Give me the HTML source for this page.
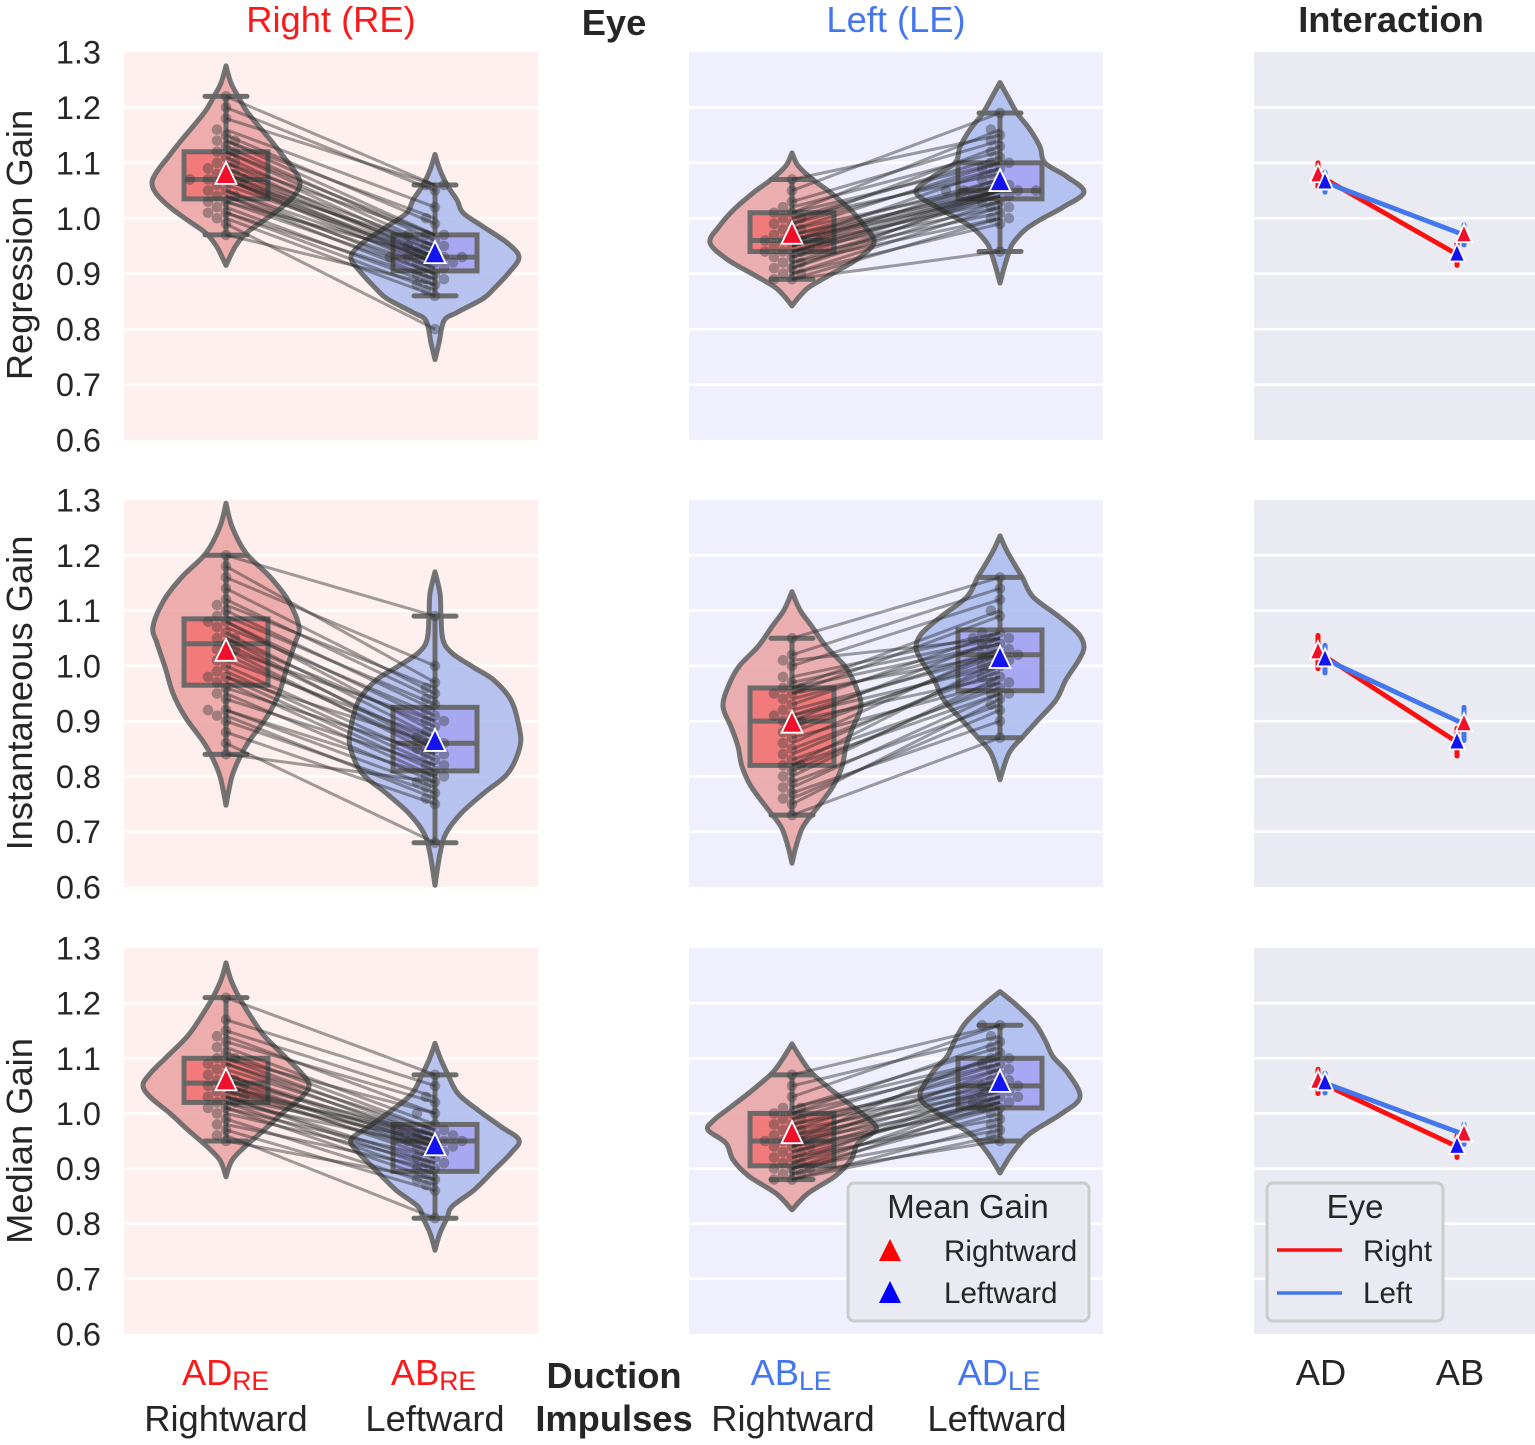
<!DOCTYPE html>
<html lang="en">
<head>
<meta charset="utf-8">
<title>Gain by eye and duction impulse</title>
<style>
html,body{margin:0;padding:0;background:#fff}
svg{display:block}
text{font-family:"Liberation Sans",Arial,sans-serif;fill:#262626}
.t{font-size:36.3px}
.b{font-weight:bold}
.tick{font-size:32.5px;text-anchor:end}
.m{text-anchor:middle}
.leg{font-size:29.6px}
.legt{font-size:33px;text-anchor:middle}
</style>
</head>
<body>
<svg id="chart" xmlns="http://www.w3.org/2000/svg" width="1535" height="1445" viewBox="0 0 1535 1445">
  <g id="panels"></g>

  <text class="t m" x="331" y="32" style="fill:#fb1a1a">Right (RE)</text>
  <text class="t m b" x="614" y="35">Eye</text>
  <text class="t m" x="896" y="32" style="fill:#4477ee">Left (LE)</text>
  <text class="t m b" x="1391" y="32">Interaction</text>

  <text class="t m" transform="translate(32,245) rotate(-90)">Regression Gain</text>
  <text class="t m" transform="translate(32,693) rotate(-90)">Instantaneous Gain</text>
  <text class="t m" transform="translate(32,1141) rotate(-90)">Median Gain</text>

  <text class="t m" x="225.5" y="1385" style="fill:#fb1a1a">AD<tspan font-size="26.5" dy="5">RE</tspan></text>
  <text class="t m" x="433.5" y="1385" style="fill:#fb1a1a">AB<tspan font-size="26.5" dy="5">RE</tspan></text>
  <text class="t m" x="791" y="1385" style="fill:#4477ee">AB<tspan font-size="26.5" dy="5">LE</tspan></text>
  <text class="t m" x="999" y="1385" style="fill:#4477ee">AD<tspan font-size="26.5" dy="5">LE</tspan></text>
  <text class="t m" x="226" y="1431">Rightward</text>
  <text class="t m" x="435" y="1431">Leftward</text>
  <text class="t m" x="793" y="1431">Rightward</text>
  <text class="t m" x="997" y="1431">Leftward</text>
  <text class="t m b" x="614" y="1388">Duction</text>
  <text class="t m b" x="614" y="1431">Impulses</text>
  <text class="t m" x="1321" y="1385">AD</text>
  <text class="t m" x="1460" y="1385">AB</text>

  <g>
    <rect x="848" y="1183" width="241" height="138" rx="6" fill="#e9eaf2" stroke="#cccccc" stroke-width="3"/>
    <text class="legt" x="968" y="1218">Mean Gain</text>
    <polygon points="890,1239 901,1261 879,1261" fill="#ff0000"/>
    <text class="leg" x="944" y="1261">Rightward</text>
    <polygon points="890,1281 901,1303 879,1303" fill="#0000ff"/>
    <text class="leg" x="944" y="1303">Leftward</text>
  </g>
  <g>
    <rect x="1267" y="1183" width="176" height="138" rx="6" fill="#e9eaf2" stroke="#cccccc" stroke-width="3"/>
    <text class="legt" x="1355" y="1218">Eye</text>
    <line x1="1277" x2="1342" y1="1250" y2="1250" stroke="#fb1010" stroke-width="3.5"/>
    <text class="leg" x="1363" y="1261">Right</text>
    <line x1="1277" x2="1342" y1="1293" y2="1293" stroke="#4477ee" stroke-width="3.5"/>
    <text class="leg" x="1363" y="1303">Left</text>
  </g>
</svg>
<script>
// Axis tick labels
const yTicks = ["0.6","0.7","0.8","0.9","1.0","1.1","1.2","1.3"];

// Violin densities (gain levels and density at each level), one pair per violin
const regAdReGains = [1.275,1.244,1.22,1.195,1.172,1.14,1.11,1.087,1.065,1.045,1.02,0.996,0.973,0.948,0.915];
const regAdReDensity = [0,5,12,20,30,45,58,68,74,70,56,38,20,9,0];
const regAbReGains = [1.115,1.087,1.06,1.033,1.01,0.985,0.956,0.93,0.902,0.875,0.855,0.83,0.815,0.775,0.745];
const regAbReDensity = [0,5,12,22,28,48,72,84,74,60,48,22,9,4,0];
const regAbLeGains = [1.118,1.095,1.071,1.047,1.016,0.985,0.956,0.926,0.902,0.877,0.86,0.842];
const regAbLeDensity = [0,6,20,38,58,73,82,65,42,18,8,0];
const regAdLeGains = [1.245,1.222,1.19,1.16,1.129,1.10,1.075,1.047,1.02,0.997,0.979,0.955,0.939,0.91,0.883];
const regAdLeDensity = [0,7,17,30,40,45,67,84,63,40,25,13,9,4,0];

const insAdReGains = [1.294,1.252,1.204,1.161,1.119,1.071,1.041,0.998,0.95,0.908,0.866,0.839,0.80,0.748];
const insAdReDensity = [0,6,20,44,62,73,69,61,53,41,24,15,6,0];
const insAbReGains = [1.17,1.131,1.089,1.047,1.023,0.998,0.974,0.938,0.89,0.854,0.806,0.77,0.733,0.697,0.66,0.603];
const insAbReDensity = [0,5,6,8,17,38,59,76,84,85,73,49,26,11,5,0];
const insAbLeGains = [1.134,1.101,1.071,1.035,0.999,0.962,0.926,0.89,0.854,0.818,0.782,0.745,0.709,0.673,0.643];
const insAbLeDensity = [0,8,20,34,53,64,69,61,54,50,41,26,11,4,0];
const insAdLeGains = [1.235,1.204,1.161,1.125,1.089,1.059,1.035,1.011,0.975,0.938,0.902,0.872,0.842,0.794];
const insAdLeDensity = [0,8,22,33,59,78,84,79,66,56,38,23,9,0];

const medAdReGains = [1.273,1.242,1.211,1.175,1.139,1.103,1.072,1.051,1.03,1.00,0.97,0.94,0.915,0.885];
const medAdReDensity = [0,5,13,25,39,59,76,83,76,56,38,19,6,0];
const medAbReGains = [1.127,1.097,1.07,1.036,1.006,0.976,0.952,0.928,0.897,0.861,0.831,0.81,0.783,0.752];
const medAbReDensity = [0,6,13,23,43,66,84,76,59,39,17,12,5,0];
const medAbLeGains = [1.126,1.097,1.073,1.043,1.012,0.988,0.97,0.946,0.916,0.886,0.855,0.825];
const medAbLeDensity = [0,10,20,39,61,78,84,66,59,43,16,0];
const medAdLeGains = [1.221,1.194,1.163,1.133,1.103,1.073,1.03,1.00,0.97,0.952,0.922,0.892];
const medAdLeDensity = [0,18,35,45,53,68,80,62,35,23,10,0];

// Box statistics: [whisker low, Q1, median, Q3, whisker high]
const regAdReBox = [0.97,1.035,1.07,1.12,1.22];
const regAbReBox = [0.86,0.905,0.93,0.97,1.06];
const regAbLeBox = [0.89,0.94,0.96,1.01,1.07];
const regAdLeBox = [0.94,1.035,1.05,1.10,1.19];
const insAdReBox = [0.84,0.965,1.04,1.085,1.20];
const insAbReBox = [0.68,0.81,0.86,0.925,1.09];
const insAbLeBox = [0.73,0.82,0.90,0.96,1.05];
const insAdLeBox = [0.87,0.955,1.02,1.065,1.16];
const medAdReBox = [0.95,1.02,1.055,1.10,1.21];
const medAbReBox = [0.81,0.895,0.95,0.98,1.07];
const medAbLeBox = [0.88,0.905,0.95,1.00,1.07];
const medAdLeBox = [0.95,1.01,1.05,1.10,1.16];

// Mean gains
const regMeans = [1.078,0.935,0.97,1.065];
const insMeans = [1.025,0.862,0.895,1.012];
const medMeans = [1.058,0.94,0.962,1.055];

// Subject gains, paired by index within each eye
const regAdRe = [1.22,1.20,1.18,1.16,1.15,1.14,1.14,1.13,1.12,1.12,1.11,1.10,1.10,1.09,1.09,1.08,1.08,1.07,1.07,1.07,1.07,1.06,1.05,1.05,1.04,1.04,1.03,1.03,1.02,1.01,1.01,1.00,0.99,0.97];
const regAbRe = [1.06,1.05,1.06,1.02,0.99,1.00,0.97,0.96,0.97,0.95,0.94,0.97,0.93,0.95,0.93,0.92,0.94,0.93,0.92,0.91,0.95,0.93,0.90,0.92,0.91,0.89,0.90,0.93,0.88,0.87,0.89,0.86,0.80,0.88];
const regAbLe = [1.07,1.05,1.03,1.02,1.01,1.01,1.00,1.00,0.99,0.99,0.98,0.98,0.97,0.97,0.96,0.96,0.96,0.96,0.95,0.95,0.95,0.94,0.94,0.94,0.93,0.93,0.92,0.92,0.91,0.91,0.90,0.90,0.89,0.89];
const regAdLe = [1.15,1.19,1.14,1.12,1.16,1.10,1.11,1.08,1.13,1.09,1.06,1.10,1.07,1.05,1.05,1.09,1.04,1.06,1.05,1.03,1.07,1.05,1.02,1.04,1.01,1.05,1.04,1.00,1.03,1.05,0.99,1.02,0.94,1.00];
const insAdRe = [1.20,1.18,1.16,1.14,1.12,1.11,1.10,1.09,1.08,1.08,1.07,1.06,1.05,1.05,1.04,1.03,1.03,1.02,1.01,1.00,0.99,0.98,0.98,0.97,0.96,0.95,0.94,0.92,0.92,0.91,0.90,0.88,0.86,0.84];
const insAbRe = [1.09,0.97,1.00,0.95,0.94,0.96,0.92,0.93,0.90,0.88,0.91,0.87,0.89,0.85,0.86,0.90,0.84,0.85,0.87,0.83,0.82,0.86,0.81,0.80,0.84,0.79,0.82,0.78,0.80,0.76,0.77,0.75,0.68,0.79];
const insAbLe = [1.05,1.02,1.01,1.00,0.98,0.97,0.96,0.96,0.95,0.95,0.94,0.93,0.92,0.91,0.91,0.90,0.90,0.89,0.88,0.87,0.86,0.85,0.84,0.83,0.82,0.82,0.81,0.80,0.79,0.78,0.77,0.76,0.75,0.73];
const insAdLe = [1.16,1.14,1.05,1.12,1.06,1.05,1.10,1.04,1.02,1.09,1.04,1.06,1.02,1.00,1.03,0.98,1.05,1.01,1.02,0.97,1.03,0.99,1.00,0.96,0.95,1.01,0.97,0.98,0.93,0.95,0.90,0.92,0.94,0.87];
const medAdRe = [1.21,1.17,1.15,1.14,1.13,1.12,1.11,1.10,1.10,1.09,1.09,1.08,1.07,1.07,1.06,1.06,1.05,1.05,1.05,1.04,1.04,1.03,1.03,1.03,1.02,1.02,1.01,1.01,1.00,0.99,0.98,0.97,0.96,0.95];
const medAbRe = [1.07,1.05,1.03,1.00,1.02,0.98,0.97,1.00,0.96,0.95,0.97,0.96,0.94,0.95,0.96,0.93,0.95,0.94,0.92,0.96,0.93,0.91,0.95,0.90,0.94,0.89,0.92,0.88,0.91,0.87,0.90,0.86,0.81,0.88];
const medAbLe = [1.07,1.05,1.03,1.01,1.01,1.00,1.00,0.99,0.99,0.98,0.98,0.97,0.97,0.96,0.96,0.95,0.95,0.95,0.94,0.94,0.94,0.93,0.93,0.92,0.92,0.91,0.91,0.90,0.90,0.90,0.89,0.89,0.88,0.88];
const medAdLe = [1.16,1.14,1.16,1.10,1.12,1.09,1.13,1.10,1.06,1.08,1.05,1.09,1.04,1.07,1.03,1.06,1.11,1.02,1.05,1.01,1.08,1.04,1.02,1.03,0.99,1.05,1.01,1.00,0.97,1.03,0.95,1.02,0.98,0.96];

// Interaction panel: [AD, AB] means and confidence half-widths for each eye
const regRightEye = [1.078,0.935];
const regLeftEye = [1.065,0.97];
const insRightEye = [1.025,0.862];
const insLeftEye = [1.012,0.895];
const medRightEye = [1.058,0.94];
const medLeftEye = [1.055,0.962];
const regRightCi = [0.022,0.02];
const regLeftCi = [0.018,0.018];
const insRightCi = [0.03,0.025];
const insLeftCi = [0.025,0.03];
const medRightCi = [0.022,0.02];
const medLeftCi = [0.018,0.018];

const NS = "http://www.w3.org/2000/svg";
const root = document.getElementById("panels");
const rowTops = [52,500,948];
const rowH = [388,387,386];
const panelX = [[124,414,"#fdf0ef"],[689,414,"#efeffe"],[1254,281,"#e9eaf2"]];
const catX = [226,435,792,1000];
const fills = ["#e89a9a","#a3b5ee","#e89a9a","#a3b5ee"];
const boxFills = ["#f26d6d","#a4a0f2","#f26d6d","#a4a0f2"];
const triColors = ["#f0102c","#1414f0","#f0102c","#1414f0"];
const triBorder = "#ffffff";
const grey = "#666666";
const edge = 5;

function mk(tag, parent, attrs){
  const el = document.createElementNS(NS, tag);
  for (const k in attrs) el.setAttribute(k, attrs[k]);
  parent.appendChild(el);
  return el;
}
function yAxis(row){
  const top = rowTops[row], h = rowH[row];
  return g => top + (1.3 - g) / 0.7 * h;
}
function densityX(d){ return d * 1; }

function smooth(pts){
  let s = "M" + pts[0][0] + " " + pts[0][1];
  for (let i = 0; i < pts.length - 1; i++){
    const p0 = pts[Math.max(i-1,0)], p1 = pts[i], p2 = pts[i+1], p3 = pts[Math.min(i+2,pts.length-1)];
    const c1x = p1[0] + (p2[0]-p0[0])/6, c1y = p1[1] + (p2[1]-p0[1])/6;
    const c2x = p2[0] - (p3[0]-p1[0])/6, c2y = p2[1] - (p3[1]-p1[1])/6;
    s += "C" + c1x.toFixed(1) + " " + c1y.toFixed(1) + " " + c2x.toFixed(1) + " " + c2y.toFixed(1) + " " + p2[0].toFixed(1) + " " + p2[1].toFixed(1);
  }
  return s;
}
function violinPath(cx, gains, dens, y){
  const right = gains.map((g,i)=>[cx + densityX(dens[i]), y(g)]);
  const left = gains.map((g,i)=>[cx - densityX(dens[i]), y(g)]).reverse();
  return smooth(right) + smooth(left).replace(/^M[^C]*/, "") + "Z";
}
function swarm(values, y, cx){
  const minDist = 10, placed = [];
  const order = values.map((v,i)=>[v,i]).sort((a,b)=>a[0]-b[0]);
  const xs = [];
  order.forEach(([v,i])=>{
    const py = y(v);
    let dx = 0;
    for (let k = 0; k < 40; k++){
      const cand = k === 0 ? 0 : (k % 2 ? -1 : 1) * Math.ceil(k/2) * 9;
      if (placed.every(p => Math.hypot(p[0]-cand, p[1]-py) >= minDist)){ dx = cand; break; }
    }
    placed.push([dx,py]);
    xs[i] = cx + dx;
  });
  return xs;
}
function triangle(parent, x, yv, color, w, h){
  return mk("polygon", parent, {
    points: x + "," + (yv-h*0.6) + " " + (x+w/2) + "," + (yv+h*0.4) + " " + (x-w/2) + "," + (yv+h*0.4),
    fill: color, stroke: triBorder, "stroke-width": 1.8, "stroke-linejoin": "miter"
  });
}

const rows = [
  {key:"regression",
   gains:[regAdReGains,regAbReGains,regAbLeGains,regAdLeGains],
   dens:[regAdReDensity,regAbReDensity,regAbLeDensity,regAdLeDensity],
   box:[regAdReBox,regAbReBox,regAbLeBox,regAdLeBox],
   subj:[regAdRe,regAbRe,regAbLe,regAdLe],
   means:regMeans, eyeR:regRightEye, eyeL:regLeftEye, ciR:regRightCi, ciL:regLeftCi},
  {key:"instantaneous",
   gains:[insAdReGains,insAbReGains,insAbLeGains,insAdLeGains],
   dens:[insAdReDensity,insAbReDensity,insAbLeDensity,insAdLeDensity],
   box:[insAdReBox,insAbReBox,insAbLeBox,insAdLeBox],
   subj:[insAdRe,insAbRe,insAbLe,insAdLe],
   means:insMeans, eyeR:insRightEye, eyeL:insLeftEye, ciR:insRightCi, ciL:insLeftCi},
  {key:"median",
   gains:[medAdReGains,medAbReGains,medAbLeGains,medAdLeGains],
   dens:[medAdReDensity,medAbReDensity,medAbLeDensity,medAdLeDensity],
   box:[medAdReBox,medAbReBox,medAbLeBox,medAdLeBox],
   subj:[medAdRe,medAbRe,medAbLe,medAdLe],
   means:medMeans, eyeR:medRightEye, eyeL:medLeftEye, ciR:medRightCi, ciL:medLeftCi}
];

rows.forEach((row, r) => {
  const y = yAxis(r);
  const top = rowTops[r], h = rowH[r];
  const gRow = mk("g", root, {});
  
  

  panelX.forEach((p, pi) => {
    const bg = mk("rect", gRow, {x:p[0], y:top, width:p[1], height:h, fill:p[2]});
    
    
    yTicks.slice(1,-1).forEach(t => {
      const gl = mk("line", gRow, {x1:p[0], x2:p[0]+p[1], y1:y(+t), y2:y(+t), stroke:"#ffffff", "stroke-width":2.6});
      
      
    });
  });

  yTicks.forEach(t => {
    const lab = mk("text", gRow, {x:101, y:y(+t)+11.5, class:"tick"});
    lab.textContent = t;
    
    
  });

  // violins, boxes, swarm points for each of the four conditions
  [0,1,2,3].forEach(c => {
    const cx = catX[c];
    const v = mk("path", gRow, {d:violinPath(cx,row.gains[c],row.dens[c],y), fill:fills[c], "fill-opacity":0.78, stroke:grey, "stroke-opacity":0.9, "stroke-width":edge, "stroke-linejoin":"round"});
    
    

    const b = row.box[c];
    const hw = 42, cw = 21;
    const rect = mk("rect", gRow, {x:cx-hw, y:y(b[3]), width:hw*2, height:y(b[1])-y(b[3]), fill:boxFills[c], "fill-opacity":0.8, stroke:grey, "stroke-opacity":0.95, "stroke-width":edge});
    
    
    const med = mk("line", gRow, {x1:cx-hw, x2:cx+hw, y1:y(b[2]), y2:y(b[2]), stroke:grey, "stroke-width":edge, "stroke-opacity":0.95});
    
    
    const wh1 = mk("line", gRow, {x1:cx, x2:cx, y1:y(b[0]), y2:y(b[1]), stroke:grey, "stroke-width":edge, "stroke-opacity":0.95});
    
    
    const wh2 = mk("line", gRow, {x1:cx, x2:cx, y1:y(b[3]), y2:y(b[4]), stroke:grey, "stroke-width":edge, "stroke-opacity":0.95});
    
    
    const cap1 = mk("line", gRow, {x1:cx-cw, x2:cx+cw, y1:y(b[0]), y2:y(b[0]), stroke:grey, "stroke-width":edge, "stroke-linecap":"round", "stroke-opacity":0.95});
    
    
    const cap2 = mk("line", gRow, {x1:cx-cw, x2:cx+cw, y1:y(b[4]), y2:y(b[4]), stroke:grey, "stroke-width":edge, "stroke-linecap":"round", "stroke-opacity":0.95});
    
    

    const xs = swarm(row.subj[c], y, cx);
    row.subj[c].forEach((val, i) => {
      const dot = mk("circle", gRow, {cx:xs[i], cy:y(val), r:5.3, fill:"#3c3c3c", "fill-opacity":0.42});
      
      
    });
  });

  // paired subject lines
  [[0,1],[2,3]].forEach(pair => {
    const A = row.subj[pair[0]], B = row.subj[pair[1]];
    A.forEach((val, i) => {
      const ln = mk("line", gRow, {x1:catX[pair[0]], y1:y(val), x2:catX[pair[1]], y2:y(B[i]), stroke:"#2a2a2a", "stroke-opacity":0.44, "stroke-width":3});
      
      
    });
  });

  // mean markers
  row.means.forEach((m, c) => {
    const tri = triangle(gRow, catX[c], y(m), triColors[c], 21, 22);
    
    
  });

  // interaction panel
  const ix = {rAD:1318, lAD:1325, rAB:1457, lAB:1464};
  const eye = [
    {vals:row.eyeR, ci:row.ciR, c:"#fb1010", x:[ix.rAD,ix.rAB], name:"right-eye"},
    {vals:row.eyeL, ci:row.ciL, c:"#4477ee", x:[ix.lAD,ix.lAB], name:"left-eye"}
  ];
  eye.forEach(e => {
    e.vals.forEach((val, i) => {
      const err = mk("line", gRow, {x1:e.x[i], x2:e.x[i], y1:y(val-e.ci[i]), y2:y(val+e.ci[i]), stroke:e.c, "stroke-width":5, "stroke-linecap":"round"});
      
      
    });
  });
  eye.forEach(e => {
    const ln = mk("line", gRow, {x1:e.x[0], y1:y(e.vals[0]), x2:e.x[1], y2:y(e.vals[1]), stroke:e.c, "stroke-width":4.8});
    
    
  });
  // red markers are rightward impulses, blue markers are leftward
  [[eye[0],0,"#f0102c"],[eye[1],1,"#f0102c"],[eye[0],1,"#1414f0"],[eye[1],0,"#1414f0"]].forEach(d => {
    const tri = triangle(gRow, d[0].x[d[1]], y(d[0].vals[d[1]]), d[2], 16, 18);
    
    
  });
});
</script>
</body>
</html>
